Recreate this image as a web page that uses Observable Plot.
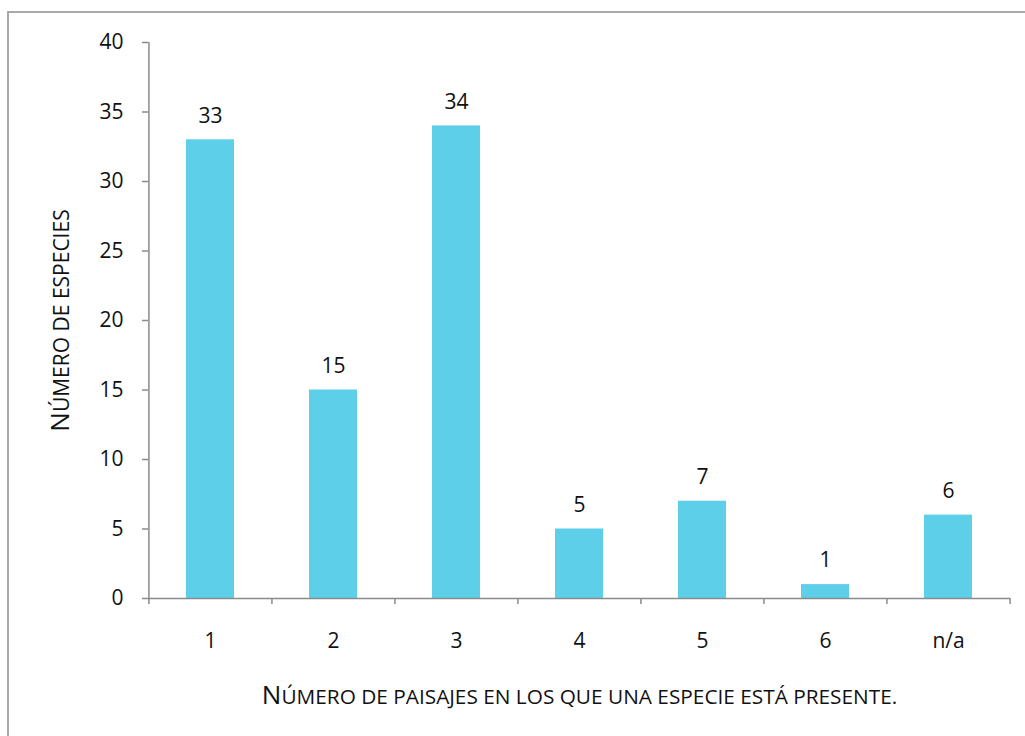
<!DOCTYPE html>
<html>
<head>
<meta charset="utf-8">
<script src="https://cdn.jsdelivr.net/npm/d3@7"></script>
<script src="https://cdn.jsdelivr.net/npm/@observablehq/plot@0.6"></script>
<style>
  html, body { margin: 0; padding: 0; background: #fff; overflow: hidden; }
  #wrap { position: relative; width: 1025px; height: 736px; overflow: hidden; }
  #border {
    position: absolute; left: 7px; top: 11px; width: 1200px; height: 900px;
    border-left: 2px solid #a9a9a9; border-top: 2px solid #a9a9a9;
    box-sizing: border-box; pointer-events: none;
  }
  #chart { position: absolute; left: 0; top: 0; }
</style>
</head>
<body>
<div id="wrap">
  <div id="border"></div>
  <div id="chart"></div>
</div>
<script>
// Número de especies por número de paisajes en que aparecen
const categories = ["1", "2", "3", "4", "5", "6", "n/a"];
const counts = [33, 15, 34, 5, 7, 1, 6];
const yTicks = [0, 5, 10, 15, 20, 25, 30, 35, 40];
const yTitle = "Número de especies";
const xTitle = "Número de paisajes en los que una especie está presente.";

const data = categories.map((c, i) => ({category: c, count: counts[i]}));

const width = 1025, height = 736;
const marginLeft = 148, marginRight = 15, marginTop = 42, marginBottom = 138;
const step = (width - marginLeft - marginRight) / categories.length;

const axisColor = "#8a8a8a";
const barColor = "#5dcfe8";
const font = "'Open Sans', sans-serif";
const labelSize = 21;
const first = categories[0];
const last = categories[categories.length - 1];

const chart = Plot.plot({
  width, height, marginLeft, marginRight, marginTop, marginBottom,
  style: {fontFamily: font, fontSize: labelSize + "px", color: "#111", background: "transparent"},
  x: {domain: categories, paddingInner: 0.61, paddingOuter: 0.305, align: 0.5},
  y: {domain: [0, 40]},
  marks: [
    Plot.barY(data, {x: "category", y: "count", fill: barColor}),
    // value labels above bars
    Plot.text(data, {x: "category", y: "count", text: d => String(d.count), dy: -24, fontSize: labelSize, fill: "#111"}),
    // y axis line along the left edge of the first band step
    Plot.ruleX([first], {x: d => d, dx: -step / 2, y1: 0, y2: 40, stroke: axisColor, strokeWidth: 1.5}),
    Plot.axisY({ticks: yTicks, tickSize: 6, tickPadding: 19, stroke: axisColor, strokeWidth: 1.5, label: null, fontSize: labelSize}),
    // x axis
    Plot.ruleY([0], {stroke: axisColor, strokeWidth: 1.5}),
    Plot.axisX({tickSize: 0, tickPadding: 35, label: null, fontSize: labelSize}),
    // ticks at band boundaries
    Plot.ruleX(categories, {x: d => d, dx: -step / 2, y1: 0, y2: 0, insetBottom: -6, stroke: axisColor, strokeWidth: 1.5}),
    Plot.ruleX([last], {x: d => d, dx: step / 2, y1: 0, y2: 0, insetBottom: -6, stroke: axisColor, strokeWidth: 1.5}),
    // axis titles
    Plot.text([yTitle], {frameAnchor: "left", textAnchor: "middle", lineAnchor: "middle", rotate: -90, dx: -86, fill: "#111"}),
    Plot.text([xTitle], {frameAnchor: "bottom", textAnchor: "middle", lineAnchor: "middle", dy: 99, fill: "#111"})
  ]
});

// Small-caps styling: large initial capital, remaining letters as smaller capitals
function smallCaps(str, big, small) {
  d3.select(chart).selectAll("text")
    .filter(function() { return this.textContent === str; })
    .each(function() {
      const t = d3.select(this);
      t.text(null);
      t.append("tspan").attr("font-size", big).text(str[0]);
      t.append("tspan").attr("font-size", small).text(str.slice(1).toUpperCase());
    });
}
smallCaps(yTitle, 26, 21);
smallCaps(xTitle, 26, 20.8);

document.getElementById("chart").appendChild(chart);
</script>
</body>
</html>
